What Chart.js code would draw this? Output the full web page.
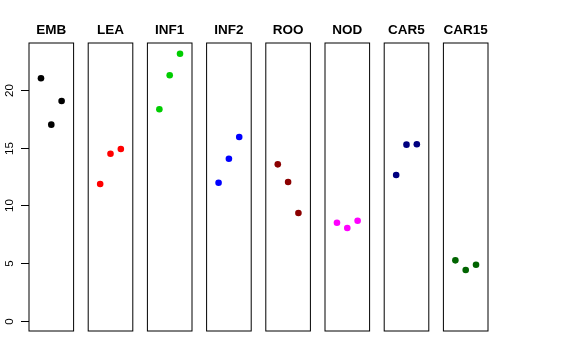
<!DOCTYPE html>
<html>
<head>
<meta charset="utf-8">
<script src="https://cdn.jsdelivr.net/npm/chart.js@4"></script>
<style>
  body { margin: 0; background: #fff; }
  #wrap { position: relative; width: 576px; height: 360px; overflow: hidden; }
  #wrap canvas { position: absolute; top: 0; }
</style>
</head>
<body>
<div id="wrap"></div>
<script>
// panel names, colours and the three values in each panel
var groups = ['EMB', 'LEA', 'INF1', 'INF2', 'ROO', 'NOD', 'CAR5', 'CAR15'];
var colors = ['#000000', '#FF0000', '#00CD00', '#0000FF', '#8B0000', '#FF00FF', '#000080', '#006400'];
var positions = [1, 2, 3];
var values = [
    [21.06, 17.03, 19.09],
    [11.87, 14.50, 14.91],
    [18.37, 21.32, 23.20],
    [11.98, 14.07, 15.96],
    [13.58, 12.04, 9.35],
    [8.50, 8.04, 8.68],
    [12.65, 15.29, 15.32],
    [5.23, 4.39, 4.85]
];
var yTicks = [0, 5, 10, 15, 20];

// Draw the panel box, title and (first panel only) the y axis
var panelDecor = {
    id: 'panelDecor',
    afterDraw: function(chart) {
        var ctx = chart.ctx;
        var a = chart.chartArea;
        var opts = chart.options.plugins.panelDecor;
        ctx.save();
        ctx.strokeStyle = '#000';
        ctx.lineWidth = 1;
        ctx.strokeRect(a.left, a.top, a.right - a.left, a.bottom - a.top);

        ctx.fillStyle = '#000';
        ctx.font = 'bold 13.5px "Liberation Sans", Arial, sans-serif';
        ctx.textAlign = 'center';
        ctx.textBaseline = 'alphabetic';
        ctx.fillText(opts.title, (a.left + a.right) / 2, a.top - 9);

        if (opts.axis) {
            var y = chart.scales.y;
            ctx.font = '11.5px "Liberation Sans", Arial, sans-serif';
            yTicks.forEach(function(v) {
                var py = Math.round(y.getPixelForValue(v)) + 0.5;
                ctx.beginPath();
                ctx.moveTo(a.left - 8, py);
                ctx.lineTo(a.left, py);
                ctx.stroke();
                ctx.save();
                ctx.translate(a.left - 16.5, py);
                ctx.rotate(-Math.PI / 2);
                ctx.fillText(String(v), 0, 0);
                ctx.restore();
            });
        }
        ctx.restore();
    }
};

var wrap = document.getElementById('wrap');
groups.forEach(function(name, i) {
    var boxLeft = 29 + 59.2 * i;
    var boxWidth = 44.6;
    var canvasLeft = i === 0 ? 0 : Math.floor(boxLeft - 10);
    var canvasWidth = Math.ceil(boxLeft - canvasLeft + boxWidth + 10);

    var canvas = document.createElement('canvas');
    canvas.width = canvasWidth;
    canvas.height = 360;
    canvas.style.left = canvasLeft + 'px';
    canvas.style.width = canvasWidth + 'px';
    canvas.style.height = '360px';
    wrap.appendChild(canvas);

    new Chart(canvas.getContext('2d'), {
        type: 'scatter',
        data: {
            datasets: [{
                data: positions.map(function(x, j) { return { x: x, y: values[i][j] }; }),
                backgroundColor: colors[i],
                borderColor: colors[i],
                pointRadius: 3.3,
                pointBorderWidth: 0
            }]
        },
        options: {
            responsive: false,
            animation: false,
            layout: {
                padding: {
                    left: boxLeft - canvasLeft,
                    right: canvasWidth - (boxLeft - canvasLeft) - boxWidth,
                    top: 43,
                    bottom: 29
                }
            },
            scales: {
                x: { type: 'linear', display: false, min: -0.16, max: 4.16 },
                y: { type: 'linear', display: false, min: -0.913, max: 24.13 }
            },
            plugins: {
                legend: { display: false },
                tooltip: { enabled: false },
                panelDecor: { title: name, axis: i === 0 }
            }
        },
        plugins: [panelDecor]
    });
});
</script>
</body>
</html>
